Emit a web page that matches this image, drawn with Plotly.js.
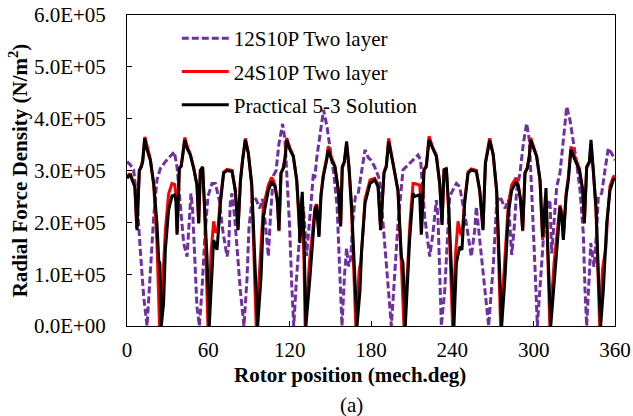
<!DOCTYPE html>
<html>
<head>
<meta charset="utf-8">
<script src="https://cdn.plot.ly/plotly-3.0.1.min.js"></script>
<style>
html,body{margin:0;padding:0;background:#fff;}
#chart{width:633px;height:416px;}
</style>
</head>
<body>
<div id="chart"></div>
<script>
// Values in units of 1E+05 N/m^2
var SCALE = 1e5;

var seriesNames = ["12S10P Two layer", "24S10P Two layer", "Practical 5-3 Solution"];

var purpleX = [0,2.5,4.9,7.4,9.8,12.3,14.8,17.2,19.7,22.1,24.6,28.3,32,34.9,36.9,39.3,41.8,44.3,45.5,47.2,48.4,49.9,51.6,53.4,55.3,57.3,59.7,62.7,65.2,68.1,70.6,73.8,75,76.2,77.4,79.4,81.1,83.6,86.3,88.5,90,92.5,95,98,100,102,104.3,106,108,110,112,114.8,116.5,118,120,121.5,123,125,127.5,130,131,132.5,134,136,137.5,138.5,140,142.5,145,147.5,150,152.5,155,156.8,158.6,160.5,162,163.5,165,166.5,168.5,170.5,173,175.6,178,180,182.7,186.4,188.9,192.6,195,197.5,199.9,203.6,207.3,214.7,216.6,219.6,223.3,225.7,228.2,229.4,230.7,231.9,234.4,238,243,245.4,250.3,254,256.5,257.7,260.2,263.9,266.8,270.3,272.7,275.2,278.9,281.3,282.6,283.8,285.5,287.5,289.9,292.4,294.8,296.8,298.5,300.3,301.7,302.7,304.7,307.1,309.6,312,313.3,315.7,317,319.4,321.9,324.4,326.8,329.3,331.7,334.2,336.6,337.9,339.1,341.1,342.1,344.5,346.5,347.7,350.2,352.6,355.1,357.5,360];
var purpleY = [3.17,3.11,3.01,2.43,1.47,0.57,0,0.95,2.11,2.82,3.04,3.17,3.27,3.36,3.07,2.3,1.6,1.34,1.85,2.56,2.24,1.34,0.37,0,0.69,1.66,2.5,2.75,2.75,2.43,1.85,1.34,1.53,2.37,2.56,2.11,1.47,0.69,0,0.9,1.9,2.5,2.45,2.27,2.45,2.0,1.34,2.2,2.9,3.0,3.5,3.9,3.6,2.9,1.9,0.8,0,0.9,1.8,2.3,2.0,1.35,1.9,2.45,2.95,2.85,3.25,3.7,4.17,3.85,3.4,2.95,2.3,1.3,0,1.0,1.5,1.15,1.3,2.0,2.5,2.55,2.95,3.4,3.25,3.2,3.07,2.82,1.98,0.69,0,1.0,1.98,3.01,3.11,3.3,3.2,2.11,1.34,1.79,2.43,2.11,1.02,0,0.69,2.5,2.75,2.69,1.98,1.34,1.85,2.3,1.66,0.69,0,1.21,2.37,2.5,2.27,2.43,1.85,1.37,1.85,2.62,2.95,3.52,3.91,3.59,2.62,1.66,0.69,0,0.69,1.66,2.24,2.43,1.4,2.3,2.69,2.95,3.59,4.23,3.97,3.59,3.14,2.62,1.79,0.69,0,1.02,1.6,1.14,1.85,2.5,2.56,3.01,3.43,3.33,3.2];

var redX = [0,1.5,2.5,4.5,5.8,7.2,9.1,10.6,11.6,13.2,14.8,17.2,19.7,22.1,24,26.5,28.3,30.7,33.2,35.2,36.3,37.1,38.6,40,41.1,42.6,44.6,46.7,49.2,51.6,52.9,54.1,55.8,57.3,59.7,62,63.9,65.5,67.2,68.9,71.3,73.8,77.5,79.9,81.9,83.7,85.3,87.3,89.5,92,95.3,98.5,100.6,104.3,106.7,109.2,110.9,112.1,113.6,115.3,116.6,117.8,120.2,122.7,125.2,126.9,127.6,128.8,129.5,130.6,131.4,134.5,137.5,138.7,139.9,141.6,143.1,144.8,147.3,148.5,151,153.4,155.9,157.6,158.8,160.3,162,163.8,165.7,168.8,171.2,172.5,173.5,175.6,179.3,182.7,185.2,187.1,189.6,191.3,193,196.2,199.9,202.4,204.3,207,208.5,211,212.2,215.9,216.9,217.3,219.1,220.8,222.8,225.7,228.2,230.7,232.4,233.9,235.6,237.3,240.2,242.4,244.2,245.8,247.1,249.1,251.6,254,257.7,260.2,262.6,264.4,267.5,270,272.7,275.6,278.5,281.3,283.8,287,288.7,290.4,291.9,293.6,295.3,296.8,297.8,300.3,302.2,304.7,306.6,308.6,309.4,310.4,311.9,315,318.2,319.4,320.7,321.9,323.9,325.6,327.5,330.5,333.7,336.2,337.4,339.1,341.1,342.3,344,346,348.7,350.8,352,353.2,354.5,356.3,358.8,360];
var redY = [2.88,2.93,2.93,2.78,2.7,1.88,3.0,3.1,3.2,3.65,3.45,3.22,2.72,1.6,0,0.9,1.85,2.55,2.75,2.73,2.5,1.8,3.05,3.1,3.3,3.64,3.45,3.32,3.05,2.72,2.0,3.0,3.05,2.2,0,1.4,2.02,1.8,1.9,2.45,2.97,3.02,3.0,2.6,1.88,2.82,3.22,3.62,3.35,2.7,0,1.3,2.3,2.72,2.87,2.72,2.4,1.83,2.95,3.06,3.26,3.63,3.43,3.28,2.8,2.0,1.7,2.2,2.3,1.2,0,1.2,2.0,2.3,2.35,1.75,2.55,2.92,3.25,3.47,3.24,3.08,2.6,1.95,3.05,3.15,3.5,3.0,2.2,0,1.05,1.25,1.6,2.45,2.82,2.85,2.72,1.88,2.97,3.1,3.62,3.18,2.6,1.2,0,1.1,1.9,2.75,2.75,2.72,2.4,1.8,3.02,3.1,3.66,3.43,3.3,2.75,1.98,3.02,3.04,2.2,0,1.4,2.02,1.8,1.75,2.42,2.97,3.03,3.0,2.6,1.88,3.15,3.62,3.33,2.58,0,1.3,2.35,2.72,2.86,2.72,2.4,1.83,2.96,3.06,3.3,3.63,3.43,3.28,2.8,1.66,2.3,2.35,1.4,0,1.2,2.0,2.33,2.2,1.7,2.55,2.88,3.46,3.24,3.04,2.6,2.0,3.05,3.15,3.5,3.0,2.2,0,1.1,1.3,1.5,2.1,2.7,2.88,2.9];

var blackX = [0,1.5,2.5,4.5,5.8,7.4,9.1,10.6,11.6,13,14.8,17.2,19.7,22.1,23.4,24.3,25.3,27,28.3,30.7,33.2,35.2,36.1,36.9,38.6,40,41.1,42.6,44.6,46.7,49.2,51.6,52.9,54.1,55.8,57.3,59,60.7,62.7,63.9,66.4,67.2,68.9,71.3,73.8,77.5,79.9,81.9,83.7,85.3,87.3,89.5,92,94.4,96.4,98.9,100.6,104.3,106.7,109.2,110.9,112.1,113.6,115.3,116.6,117.8,120.2,122.7,125.2,126.9,127.6,128.8,129.3,130.6,132,135,137.5,138.7,139.9,141.6,143.1,144.8,147.3,148.5,151,153.4,155.9,157.6,158.8,160.3,162,163.8,165.7,168.2,169.7,171.9,173.1,175.6,179.3,182.7,185.2,187.1,189.6,191.3,193,196.2,199.9,202.4,203.6,205.3,208.5,211,212.2,215.9,217.1,219.1,220.8,222.8,225.7,228.2,230.7,232.4,233.9,235.6,237.3,239.3,241.2,243,245.4,247.1,249.1,251.6,254,257.7,260.2,262.6,264.4,267.6,270.2,272.7,274.7,276.4,278.9,281.3,283.8,287,288.7,290.4,291.9,293.6,295.3,296.8,297.8,300.3,302.2,304.7,306.6,309.1,310.1,312.6,315.7,318.2,319.4,320.7,321.9,323.9,325.6,327.5,330.5,333.7,336.2,337.4,339.1,341.1,342.3,344,346,347.7,349.4,351.4,352.6,353.9,356.3,358.8,360];
var blackY = [2.85,2.9,2.91,2.75,2.68,1.85,3.0,3.07,3.17,3.62,3.4,3.2,2.75,1.98,1.27,1.2,0,0.44,1.47,2.24,2.51,2.53,2.4,1.76,3.04,3.08,3.27,3.59,3.41,3.3,3.04,2.72,1.98,3.0,3.07,2.3,1.34,0,1.21,1.66,1.47,1.73,2.37,2.95,3.0,2.98,2.62,1.85,2.8,3.2,3.59,3.33,2.75,1.21,0,0.95,2.11,2.62,2.78,2.69,2.43,1.85,2.95,3.04,3.23,3.59,3.4,3.27,2.82,2.11,1.6,2.43,2.59,1.66,0,0.95,1.85,2.24,2.33,1.72,2.5,2.88,3.2,3.4,3.2,3.07,2.62,1.92,3.07,3.17,3.56,3.07,2.3,0.69,0,0.69,1.47,2.37,2.75,2.82,2.69,1.85,2.95,3.07,3.56,3.14,2.62,1.34,1.21,0,1.66,2.56,2.5,2.53,1.76,3.01,3.07,3.59,3.4,3.27,2.75,1.95,3.01,3.04,2.3,1.21,0,1.21,1.53,1.47,2.37,2.95,3.01,2.98,2.62,1.85,3.14,3.58,3.3,2.62,1.21,0,0.95,2.17,2.62,2.78,2.69,2.43,1.85,2.95,3.04,3.27,3.59,3.4,3.27,2.82,1.72,2.66,1.72,0,0.95,1.85,2.3,2.11,1.66,2.5,2.82,3.4,3.2,3.01,2.62,1.98,3.07,3.17,3.59,3.07,2.3,1.02,0,0.69,1.34,1.98,2.62,2.82,2.85];

var xTickVals = [0, 60, 120, 180, 240, 300, 360];
var yTickVals = [0, 1, 2, 3, 4, 5, 6];
var yTickText = ["0.0E+00", "1.0E+05", "2.0E+05", "3.0E+05", "4.0E+05", "5.0E+05", "6.0E+05"];
var xTitle = "Rotor position (mech.deg)";
var yTitle = "Radial Force Density (N/m<sup>2</sup>)";
var caption = "(a)";

function scaled(arr) { return arr.map(function (v) { return v * SCALE; }); }

var FONT = "Liberation Serif, Times New Roman, serif";

var traces = [
  {x: purpleX, y: scaled(purpleY), name: seriesNames[0], legendgroup: "a", mode: "lines",
   line: {color: "#7030A0", width: 3, dash: "7px,3px"}},
  {x: redX, y: scaled(redY), name: seriesNames[1], legendgroup: "b", mode: "lines",
   line: {color: "#FF0000", width: 3}},
  {x: blackX, y: scaled(blackY), name: seriesNames[2], legendgroup: "c", mode: "lines",
   line: {color: "#000000", width: 3}}
];

var layout = {
  width: 633, height: 416,
  margin: {l: 127, r: 18, t: 15, b: 90},
  paper_bgcolor: "#fff", plot_bgcolor: "#fff",
  font: {family: FONT, size: 21, color: "#000"},
  showlegend: true,
  legend: {x: 0.102, y: 0.99, xanchor: "left", yanchor: "top", bgcolor: "rgba(0,0,0,0)",
           font: {family: FONT, size: 21, color: "#000"}, itemwidth: 47,
           traceorder: "grouped", tracegroupgap: 3},
  xaxis: {
    range: [0, 360], tickvals: xTickVals, ticktext: xTickVals.map(String),
    ticks: "inside", ticklen: 5, tickcolor: "#000", showline: true, linecolor: "#000", linewidth: 1,
    mirror: true, showgrid: false, zeroline: false, ticklabelstandoff: 5,
    tickfont: {family: FONT, size: 21, color: "#000"}
  },
  yaxis: {
    range: [0, 6 * SCALE], tickvals: scaled(yTickVals), ticktext: yTickText,
    ticks: "inside", ticklen: 5, tickcolor: "#000", showline: true, linecolor: "#000", linewidth: 1,
    mirror: true, showgrid: false, zeroline: false, ticklabelstandoff: 16,
    tickfont: {family: FONT, size: 21, color: "#000"},
    title: {text: yTitle, standoff: 0,
            font: {family: FONT, size: 21, color: "#000", weight: 700}}
  },
  annotations: [
    {text: xTitle, xref: "paper", yref: "paper", x: (350 - 127) / 488, y: -(375 - 326) / 311,
     xanchor: "center", yanchor: "middle", showarrow: false,
     font: {family: FONT, size: 21, color: "#000", weight: 700}},
    {text: caption, xref: "paper", yref: "paper", x: (351 - 127) / 488, y: -(405 - 326) / 311,
     xanchor: "center", yanchor: "middle", showarrow: false,
     font: {family: FONT, size: 21, color: "#000"}}
  ]
};

Plotly.newPlot("chart", traces, layout, {displayModeBar: false, staticPlot: true});
</script>
</body>
</html>
